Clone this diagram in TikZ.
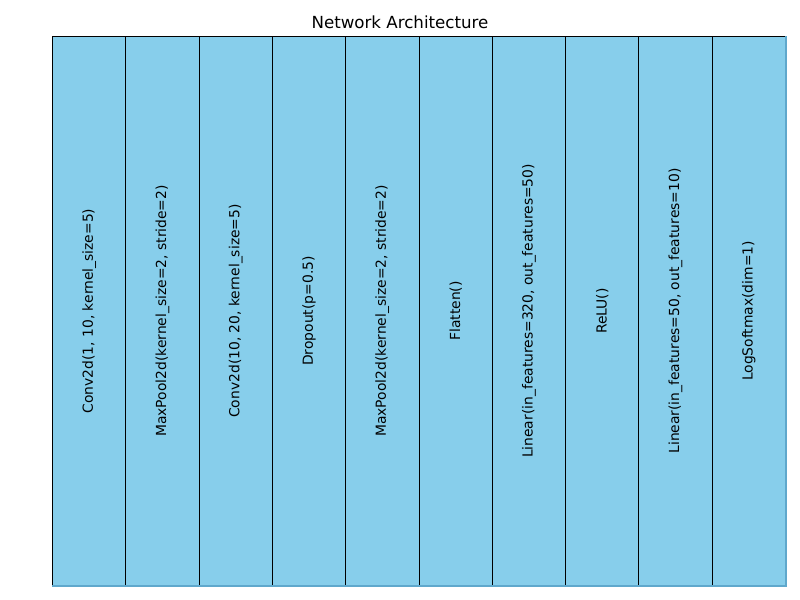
\documentclass[tikz,border=0pt]{standalone}
\usepackage{fontspec}
\setmainfont{DejaVu Sans}
\definecolor{skyb}{HTML}{87CEEB}
\definecolor{edgeb}{HTML}{5FA8CC}
\begin{document}
\begin{tikzpicture}[x=0.75pt,y=-0.75pt,
  layer/.style={fill=skyb,draw=black,line width=0.75pt,minimum width=73.3*0.75pt,minimum height=549*0.75pt,inner sep=0pt,anchor=north west},
  lbl/.style={rotate=90,font=\fontsize{10.4}{12}\selectfont,inner sep=0pt}]
\useasboundingbox (0,0) rectangle (800,600);
\node[font=\fontsize{12.5}{14}\selectfont] (title) at (400,22) {Network Architecture};
\foreach \i/\t in {0/{Conv2d(1, 10, kernel\_size=5)},1/{MaxPool2d(kernel\_size=2, stride=2)},2/{Conv2d(10, 20, kernel\_size=5)},3/{Dropout(p=0.5)},4/{MaxPool2d(kernel\_size=2, stride=2)},5/{Flatten()},6/{Linear(in\_features=320, out\_features=50)},7/{ReLU()},8/{Linear(in\_features=50, out\_features=10)},9/{LogSoftmax(dim=1)}}{
  \node[layer] (b\i) at ({52+73.3*\i},36) {};
  \node[lbl] (t\i) at (b\i.center) {\t};
}
\draw[edgeb,line width=1pt] (b0.south west) -- (b9.south east) -- (b9.north east);
\end{tikzpicture}
\end{document}
